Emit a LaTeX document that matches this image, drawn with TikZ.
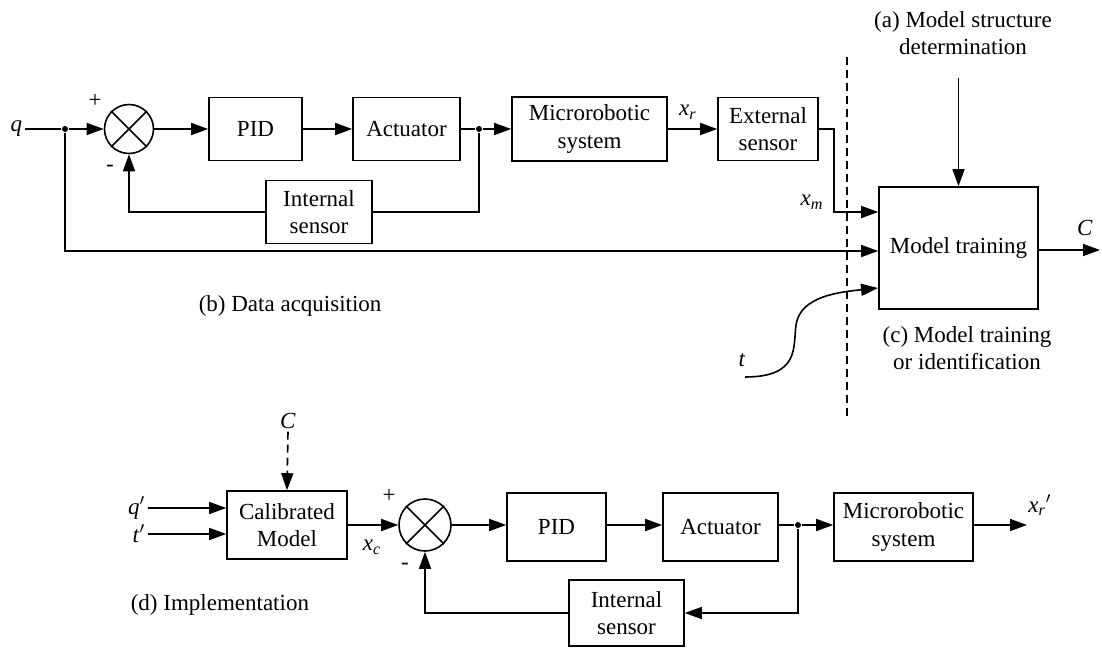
\documentclass[tikz,border=0pt]{standalone}
\usepackage{fontspec}
\setmainfont{Liberation Serif}
\usetikzlibrary{arrows.meta}
\usetikzlibrary{calc}

\tikzset{
  blk/.style={draw, inner sep=0pt, align=center},
  sumnode/.style={circle, draw, inner sep=0pt, minimum size=24.5pt},
  dotnode/.style={circle, fill=black, inner sep=0pt, minimum size=3pt},
  arr/.style={-{Triangle[length=8.5pt,width=6pt]}},
  dsh/.style={dash pattern=on 4pt off 2.5pt},
  lbl/.style={inner sep=1pt}
}

\begin{document}
\begin{tikzpicture}[x=0.5pt, y=-0.5pt, line width=0.8pt, font=\fontsize{11.5}{13.8}\selectfont]
\useasboundingbox (0,0) rectangle (1102,648);

%draw data acquisition loop
\node[lbl, anchor=east] (q) at (25,129) {\textit{q}};
\node[dotnode] (jq) at (65,129) {};
\node[sumnode] (sum1) at (129,129) {};
\draw (sum1.north west) -- (sum1.south east);
\draw (sum1.north east) -- (sum1.south west);
\node[blk, minimum width=46.5pt, minimum height=31.5pt] (pid1) at (255.5,129) {PID};
\node[blk, minimum width=53.5pt, minimum height=31.5pt] (act1) at (406.5,129) {Actuator};
\node[dotnode] (jn1) at (479,129) {};
\node[blk, minimum width=77.5pt, minimum height=32pt] (micro1) at (589.5,129) {Microrobotic\\system};
\node[blk, minimum width=50pt, minimum height=31.5pt] (ext1) at (768,129) {External\\sensor};
\node[blk, minimum width=53pt, minimum height=31.5pt] (isens1) at (319,212) {Internal\\sensor};
\node[lbl] (plus1) at (95,101) {+};
\node[lbl] (minus1) at (110,168) {-};
\node[lbl] (xr) at (688,112) {\textit{x}\textsubscript{\textit{r}}};
\node[lbl] (xm) at (812,202) {\textit{x}\textsubscript{\textit{m}}};
\node[lbl, anchor=west] (lblb) at (196,306) {(b) Data acquisition};

\draw (q.east) -- (jq);
\draw[arr] (jq) -- (sum1.west);
\draw[arr] (sum1.east) -- (pid1.west);
\draw[arr] (pid1) -- (act1);
\draw (act1.east) -- (jn1);
\draw[arr] (jn1) -- (micro1.west);
\draw[arr] (micro1.east) -- (ext1.west);
\draw (jn1) |- (isens1.east);
\draw[arr] (isens1.west) -| (sum1.south);

%draw model training
\node[blk, minimum width=79.5pt, minimum height=61pt] (model) at (958.5,248) {Model training};
\node[lbl, align=center] (lbla) at (963,33) {(a) Model structure\\determination};
\node[lbl, align=center] (lblc) at (967,348) {(c) Model training\\or identification};
\node[lbl] (cout) at (1085,228) {\textit{C}};
\node[lbl] (t) at (742,360) {\textit{t}};
\coordinate (astart) at (958.5,78);
\coordinate (xmc) at (834,212);
\coordinate (qline) at (0,251);
\coordinate (cend) at (1100,250);
\coordinate (tstart) at (745,377);
\coordinate (tend) at (878,288);

\draw[arr] (ext1.east) -| (xmc) -- (model.west |- xmc);
\draw[arr] (jq) |- (model.west |- qline);
\draw[arr] (astart) -- (model.north);
\draw[arr] (model.east |- cend) -- (cend);
\draw[arr] (tstart) .. controls (800,377) and (793,347) .. (796,325) .. controls (800,296) and (840,292) .. (tend);

%draw separator
\draw[dsh] (847,57) -- (847,418);

%draw implementation loop
\node[lbl] (cbot) at (288,421) {\textit{C}};
\node[blk, minimum width=60pt, minimum height=34pt] (cal) at (287,525) {Calibrated\\Model};
\node[lbl, anchor=east] (qp) at (148,508) {\textit{q}$'$};
\node[lbl, anchor=east] (tp) at (148,534) {\textit{t}$'$};
\node[sumnode, minimum size=26pt] (sum2) at (425,525) {};
\draw (sum2.north west) -- (sum2.south east);
\draw (sum2.north east) -- (sum2.south west);
\node[blk, minimum width=49.5pt, minimum height=34pt] (pid2) at (556.5,527) {PID};
\node[blk, minimum width=57.5pt, minimum height=34pt] (act2) at (720.5,527) {Actuator};
\node[dotnode] (jn2) at (798,525) {};
\node[blk, minimum width=69.5pt, minimum height=34pt] (micro2) at (903.5,527) {Microrobotic\\system};
\node[blk, minimum width=57.5pt, minimum height=33pt] (isens2) at (626.5,613) {Internal\\sensor};
\node[lbl] (plus2) at (389,496) {+};
\node[lbl] (minus2) at (405,566) {-};
\node[lbl] (xc) at (372,547) {\textit{x}\textsubscript{\textit{c}}};
\node[lbl] (xrp) at (1040,505) {\textit{x}\textsubscript{\textit{r}}$'$};
\node[lbl, anchor=west] (lbld) at (128,605) {(d) Implementation};
\coordinate (xout) at (1027,525);

\draw[arr, dsh] (cbot.south) -- (cal.north);
\draw[arr] (qp.east) -- (cal.west |- qp.east);
\draw[arr] (tp.east) -- (cal.west |- tp.east);
\draw[arr] (cal.east |- sum2.west) -- (sum2.west);
\draw[arr] (sum2.east) -- (pid2.west |- sum2.east);
\draw[arr] (pid2.east |- jn2) -- (act2.west |- jn2);
\draw (act2.east |- jn2) -- (jn2);
\draw[arr] (jn2) -- (micro2.west |- jn2);
\draw[arr] (micro2.east |- jn2) -- (xout);
\draw[arr] (jn2) |- (isens2.east);
\draw[arr] (isens2.west) -| (sum2.south);
\end{tikzpicture}
\end{document}
